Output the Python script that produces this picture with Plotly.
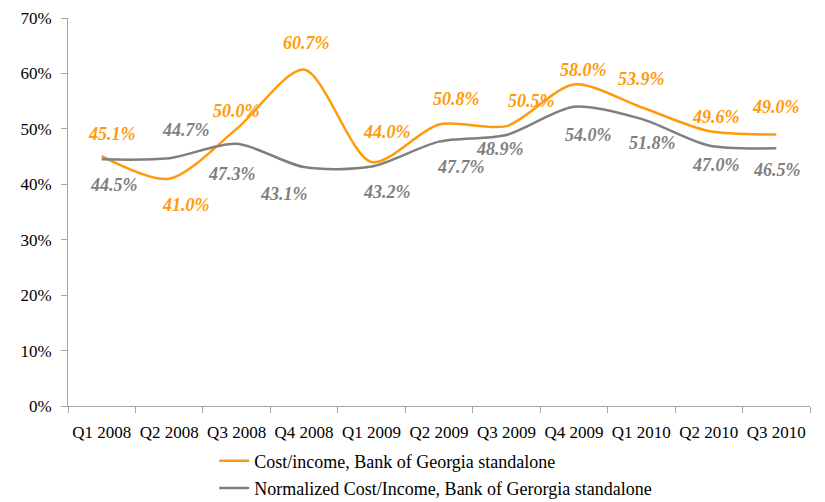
import plotly.graph_objects as go

categories = ["Q1 2008", "Q2 2008", "Q3 2008", "Q4 2008", "Q1 2009", "Q2 2009",
              "Q3 2009", "Q4 2009", "Q1 2010", "Q2 2010", "Q3 2010"]
cost_income = [45.1, 41.0, 50.0, 60.7, 44.0, 50.8, 50.5, 58.0, 53.9, 49.6, 49.0]
normalized = [44.5, 44.7, 47.3, 43.1, 43.2, 47.7, 48.9, 54.0, 51.8, 47.0, 46.5]
y_ticks = [0, 10, 20, 30, 40, 50, 60, 70]
y_tick_labels = ["0%", "10%", "20%", "30%", "40%", "50%", "60%", "70%"]

ORANGE = "#FF9A0A"
GRAY = "#7F7F7F"
FONT = "Liberation Serif"

# label offsets (px): (xshift, yshift)
orange_off = [(10, 22), (17, -26), (0, 18), (2, 27), (15, 30), (17, 25), (25, 25),
              (10, 15), (0, 28), (7, 14), (0, 27)]
gray_off = [(12, -26), (17, 28), (-5, -30), (-20, -27), (15, -25), (22, -25), (-6, -14),
            (15, -28), (11, -24), (7, -20), (1, -22)]

fig = go.Figure()
fig.add_trace(go.Scatter(
    x=categories, y=cost_income, mode="lines",
    line=dict(color=ORANGE, width=2.5, shape="spline", smoothing=0.8),
    name="Cost/income, Bank of Georgia standalone", legendgroup="a"))
fig.add_trace(go.Scatter(
    x=categories, y=normalized, mode="lines",
    line=dict(color=GRAY, width=2.5, shape="spline", smoothing=0.8),
    name="Normalized Cost/Income, Bank of Gerorgia standalone", legendgroup="b"))

annotations = []
for vals, offs, col in ((cost_income, orange_off, ORANGE), (normalized, gray_off, GRAY)):
    for c, v, (dx, dy) in zip(categories, vals, offs):
        annotations.append(dict(
            x=c, y=v, xref="x", yref="y", text=f"<b><i>{v:.1f}%</i></b>",
            showarrow=False, xshift=dx, yshift=dy,
            font=dict(family=FONT, size=18, color=col)))

fig.update_layout(
    width=817, height=494,
    margin=dict(l=60, r=15, t=10, b=96, autoexpand=False),
    plot_bgcolor="white", paper_bgcolor="white",
    font=dict(family=FONT, size=17, color="#000000"),
    annotations=annotations,
    showlegend=True,
    legend=dict(orientation="v", x=0.197, xanchor="left", y=-0.094, yanchor="top",
                font=dict(family=FONT, size=18, color="#000000"),
                tracegroupgap=1, bgcolor="rgba(0,0,0,0)"),
    xaxis=dict(type="category", showline=True, linecolor="#A6A6A6", linewidth=1,
               ticks="outside", tickson="boundaries", ticklen=6, tickcolor="#A6A6A6",
               showgrid=False, zeroline=False, ticklabelstandoff=11, tickangle=0,
               range=[-0.5, 10.5]),
    yaxis=dict(range=[0, 70], tickvals=y_ticks, ticktext=y_tick_labels,
               showline=True, linecolor="#A6A6A6", linewidth=1,
               ticks="outside", ticklen=6, tickcolor="#A6A6A6",
               showgrid=False, zeroline=False, ticklabelstandoff=6,
               ticklabeloverflow="allow"),
)

fig.write_html("out.html")
